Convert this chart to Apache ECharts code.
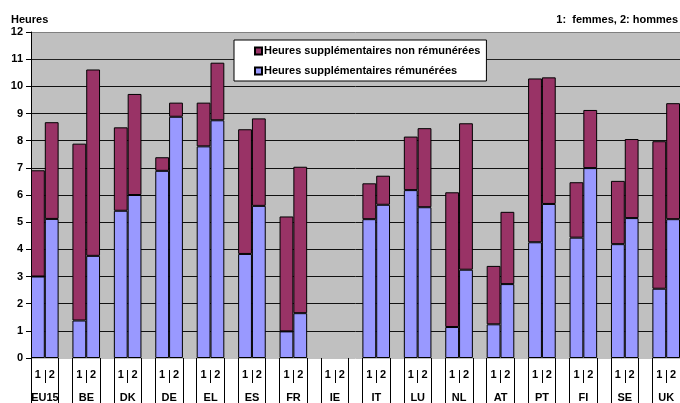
<!DOCTYPE html>
<html><head><meta charset="utf-8">
<script src="https://cdn.jsdelivr.net/npm/echarts@6/dist/echarts.min.js"></script>
<style>html,body{margin:0;padding:0;background:#fff}#c{width:680px;height:403px}</style>
</head><body><div id="c"></div>
<script>
const countries = ['EU15','BE','DK','DE','EL','ES','FR','IE','IT','LU','NL','AT','PT','FI','SE','UK'];
const sexLabels = ['1','2'];
// Paid overtime (rémunérées), women (1) and men (2)
const paidWomen   = [3.00, 1.38, 5.42, 6.89, 7.79, 3.83, 0.98, null, 5.11, 6.18, 1.14, 1.24, 4.26, 4.43, 4.19, 2.55];
const paidMen     = [5.12, 3.76, 6.00, 8.88, 8.75, 5.60, 1.65, null, 5.64, 5.55, 3.25, 2.72, 5.67, 6.99, 5.15, 5.11];
// Unpaid overtime (non rémunérées), women (1) and men (2)
const unpaidWomen = [3.91, 6.51, 3.07, 0.50, 1.61, 4.59, 4.23, null, 1.32, 1.97, 4.96, 2.15, 6.03, 2.04, 2.33, 5.43];
const unpaidMen   = [3.56, 6.86, 3.72, 0.52, 2.12, 3.22, 5.39, null, 1.07, 2.91, 5.39, 2.66, 4.66, 2.14, 2.91, 4.27];
const seriesNames = ['Heures supplémentaires non rémunérées', 'Heures supplémentaires rémunérées'];

const slotKeys = [], slotLabels = [], countryAt = [], paid = [], unpaid = [];
countries.forEach((c, i) => {
  slotKeys.push(c + '-1'); slotLabels.push(sexLabels[0]); countryAt.push(c);
  paid.push(paidWomen[i]); unpaid.push(unpaidWomen[i]);
  slotKeys.push(c + '-2'); slotLabels.push(sexLabels[1]); countryAt.push('');
  paid.push(paidMen[i]); unpaid.push(unpaidMen[i]);
  if (i < countries.length - 1) {
    slotKeys.push(c + '-gap'); slotLabels.push(''); countryAt.push('');
    paid.push(null); unpaid.push(null);
  }
});

const FONT = "'Liberation Sans', Arial, sans-serif";
const chart = echarts.init(document.getElementById('c'), null, {renderer: 'canvas'});
const baseX = {
  type: 'category', data: slotKeys, position: 'bottom', gridIndex: 0,
  axisLine: {show: false}, splitLine: {show: false}
};
chart.setOption({
  animation: false,
  backgroundColor: '#fff',
  textStyle: {fontFamily: FONT},
  title: [
    {text: 'Heures', left: 11, top: 14, padding: 0,
     textStyle: {fontSize: 11, fontWeight: 'bold', color: '#000', fontFamily: FONT}},
    {text: '1:  femmes, 2: hommes', right: 2, top: 14, padding: 0,
     textStyle: {fontSize: 11, fontWeight: 'bold', color: '#000', fontFamily: FONT}}
  ],
  legend: {
    data: seriesNames, orient: 'vertical', left: 234, top: 40,
    backgroundColor: '#fff', borderColor: '#000', borderWidth: 1,
    padding: [5, 6, 4, 20], itemGap: 8, itemWidth: 7, itemHeight: 7,
    icon: 'rect',
    textStyle: {fontSize: 11, fontWeight: 'bold', color: '#000', fontFamily: FONT, lineHeight: 12, padding: [0, 0, 0, -3]}
  },
  grid: {left: 31, top: 32, width: 650, height: 326, show: true,
         backgroundColor: '#C0C0C0', borderWidth: 0},
  yAxis: {
    type: 'value', min: 0, max: 12, interval: 1,
    axisLine: {show: true, lineStyle: {color: '#000', width: 1}},
    axisTick: {show: true, length: 5, lineStyle: {color: '#000'}},
    axisLabel: {fontSize: 11, fontWeight: 'bold', color: '#000', margin: 8, fontFamily: FONT},
    splitLine: {show: true, lineStyle: {color: ['#C0C0C0','#111','#111','#111','#111','#111','#111','#111','#111','#111','#111','#222','#808080'], width: 1}}
  },
  xAxis: [
    Object.assign({}, baseX, {
      axisTick: {show: true, length: 46, lineStyle: {color: '#000'},
                 interval: (i) => i % 3 !== 1},
      axisLabel: {interval: 0, margin: 11, fontSize: 11, fontWeight: 'bold', color: '#000',
                  fontFamily: FONT, formatter: (v, i) => slotLabels[i]}
    }),
    Object.assign({}, baseX, {
      offset: 12,
      axisTick: {show: true, length: 13, lineStyle: {color: '#000'},
                 interval: (i) => i % 3 === 1},
      axisLabel: {show: false}
    }),
    Object.assign({}, baseX, {
      axisTick: {show: false},
      axisLabel: {interval: 0, margin: 34, fontSize: 11, fontWeight: 'bold', color: '#000',
                  fontFamily: FONT, padding: [0, 0, 0, 14],
                  formatter: (v, i) => countryAt[i]}
    })
  ],
  series: [
    {name: seriesNames[1], type: 'bar', stack: 'h', data: paid, xAxisIndex: 0,
     barCategoryGap: '0%', barGap: '0%',
     itemStyle: {color: '#9999FF', borderColor: '#000', borderWidth: 1}},
    {name: seriesNames[0], type: 'bar', stack: 'h', data: unpaid, xAxisIndex: 0,
     barCategoryGap: '0%', barGap: '0%',
     itemStyle: {color: '#993366', borderColor: '#000', borderWidth: 1}}
  ]
});
</script></body></html>
